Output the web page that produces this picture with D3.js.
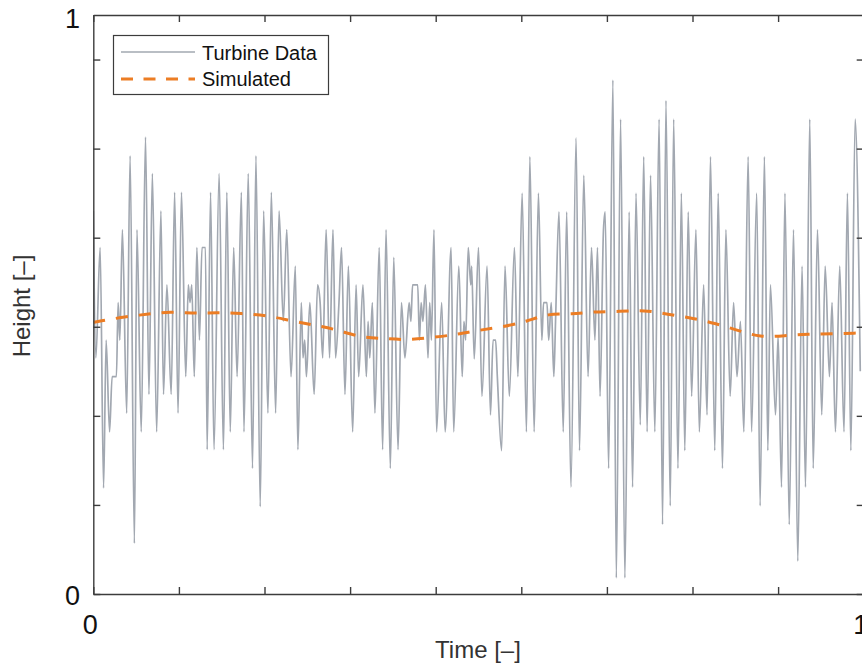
<!DOCTYPE html>
<html>
<head>
<meta charset="utf-8">
<script src="https://cdn.jsdelivr.net/npm/d3@7"></script>
<style>
  body { margin: 0; background: #fff; }
  svg { display: block; }
</style>
</head>
<body>
<svg id="chart" width="862" height="671"></svg>
<script>
// time in tick units (0..9), height in tick units (0..6.5)
var turbineTime = [0,0.03,0.08,0.12,0.15,0.19,0.22,0.27,0.29,0.31,0.34,0.39,0.43,0.48,0.51,0.56,0.61,0.65,0.69,0.74,
  0.79,0.82,0.86,0.91,0.95,0.99,1.03,1.08,1.11,1.13,1.15,1.18,1.21,1.24,1.27,1.31,1.33,1.37,1.41,1.47,
  1.52,1.56,1.60,1.64,1.68,1.73,1.76,1.81,1.86,1.90,1.95,1.99,2.04,2.08,2.13,2.17,2.22,2.26,2.31,2.36,
  2.39,2.43,2.45,2.47,2.49,2.53,2.58,2.62,2.65,2.68,2.72,2.76,2.80,2.83,2.87,2.90,2.94,2.98,3.03,3.07,
  3.10,3.15,3.19,3.21,3.23,3.26,3.29,3.34,3.38,3.42,3.47,3.51,3.56,3.60,3.64,3.69,3.71,3.73,3.79,3.81,
  3.83,3.85,3.88,3.91,3.93,3.95,3.98,4.01,4.07,4.11,4.18,4.21,4.27,4.31,4.33,4.35,4.38,4.41,4.42,4.45,
  4.50,4.54,4.60,4.64,4.67,4.70,4.72,4.77,4.81,4.86,4.92,4.96,5.01,5.06,5.10,5.15,5.20,5.24,5.26,5.30,
  5.32,5.35,5.38,5.40,5.44,5.49,5.53,5.58,5.64,5.68,5.73,5.78,5.82,5.86,5.89,5.92,5.96,5.98,6.02,6.07,
  6.11,6.16,6.21,6.26,6.30,6.34,6.39,6.43,6.47,6.51,6.56,6.61,6.65,6.69,6.74,6.78,6.83,6.87,6.91,6.95,
  6.99,7.04,7.08,7.13,7.17,7.21,7.26,7.30,7.35,7.39,7.44,7.48,7.52,7.56,7.60,7.65,7.69,7.75,7.79,7.84,
  7.88,7.91,7.97,8.00,8.04,8.08,8.13,8.18,8.23,8.28,8.32,8.37,8.41,8.46,8.51,8.55,8.60,8.63,8.67,8.72,
  8.77,8.81,8.85,8.90,8.96];
var turbineHeight = [4.30,2.65,3.89,1.19,2.85,1.82,2.44,2.44,3.27,2.85,4.09,2.03,4.92,0.57,4.09,1.82,5.13,2.24,4.72,1.82,
  4.30,2.24,3.47,2.24,4.51,2.03,4.51,2.44,3.47,3.27,3.47,2.44,3.89,2.85,3.89,3.89,1.62,4.51,1.62,4.72,
  1.62,4.51,1.82,3.89,2.44,4.51,1.82,4.72,1.41,4.92,0.98,4.30,2.03,4.51,2.03,4.30,3.06,4.09,2.44,3.68,
  1.62,3.27,2.65,2.85,2.44,3.27,2.24,3.47,3.27,2.65,4.09,2.65,4.09,2.65,3.27,3.89,2.24,3.68,1.82,3.47,
  2.44,3.47,2.44,3.06,2.65,3.27,2.03,3.89,1.62,4.09,1.41,3.78,1.62,3.27,2.65,3.27,3.06,3.47,3.47,2.85,
  3.27,3.06,3.47,2.65,3.27,2.85,4.09,1.82,3.27,1.82,3.89,1.82,3.68,2.44,3.06,2.85,3.89,3.47,3.68,2.64,
  3.89,2.22,3.68,2.01,2.85,2.85,2.44,1.61,3.68,2.22,3.89,2.44,4.50,1.82,4.91,1.82,4.50,2.85,3.27,3.27,
  2.85,3.27,2.44,3.06,4.29,1.82,4.29,1.20,5.12,1.61,4.70,2.44,3.89,2.85,3.89,2.22,4.09,4.29,1.41,5.77,
  0.18,5.33,0.18,4.29,1.20,4.50,1.90,4.91,1.82,4.70,1.82,5.33,0.78,5.54,0.99,5.33,1.41,4.50,1.61,4.29,
  2.22,4.09,1.82,3.47,2.01,4.91,1.61,4.50,1.41,4.09,2.22,3.27,2.44,3.06,1.82,4.91,1.82,4.50,0.99,4.91,
  1.61,3.47,2.01,2.90,1.20,4.50,0.78,4.09,0.37,3.68,1.20,5.33,1.41,4.09,2.01,3.68,2.44,3.27,1.82,3.68,
  1.82,4.50,1.61,5.33,2.50];

var simTime = [0,0.06,0.35,0.62,0.90,1.19,1.44,1.73,2.01,2.30,2.57,2.84,3.12,3.39,3.66,3.95,4.23,
  4.49,4.79,5.07,5.31,5.59,5.84,6.15,6.44,6.71,6.99,7.26,7.53,7.79,8.08,8.35,8.63,8.92,9];
var simHeight = [3.05,3.06,3.11,3.14,3.17,3.15,3.16,3.15,3.13,3.07,3.02,2.97,2.88,2.87,2.85,2.88,2.91,
  2.96,3.00,3.06,3.15,3.14,3.17,3.17,3.19,3.14,3.10,3.04,2.96,2.88,2.90,2.92,2.92,2.93,2.93];

var seriesNames = ["Turbine Data", "Simulated"];
var xTickLabels = ["0", "1"];
var yTickLabels = ["0", "1"];

var turbine = turbineTime.map(function(t, i) { return {t: t, h: turbineHeight[i]}; });
var sim = simTime.map(function(t, i) { return {t: t, h: simHeight[i]}; });

var svg = d3.select("#chart");

var x = d3.scaleLinear().domain([0, 9]).range([93.3, 863.7]);
var y = d3.scaleLinear().domain([0, 6.5]).range([594, 15]);

var axisColor = "#3c3c3c";

// clip
svg.append("defs").append("clipPath").attr("id", "plotclip")
  .append("rect")
    .attr("x", x(0)).attr("y", y(6.5))
    .attr("width", x(9) - x(0)).attr("height", y(0) - y(6.5));

// lines
var line = d3.line()
  .x(function(d) { return x(d.t); })
  .y(function(d) { return y(d.h); });

svg.append("path")
  .datum(turbine)
  .attr("clip-path", "url(#plotclip)")
  .attr("fill", "none")
  .attr("stroke", "#a2a8b1")
  .attr("stroke-width", 1.7)
  .attr("d", line.curve(d3.curveMonotoneX));

svg.append("path")
  .datum(sim)
  .attr("clip-path", "url(#plotclip)")
  .attr("fill", "none")
  .attr("stroke", "#ec7d24")
  .attr("stroke-width", 3)
  .attr("stroke-dasharray", "12,11")
  .attr("d", line.curve(d3.curveBasis));

// axes, ticks pointing inward on all four sides
var xt = d3.range(0, 10), yt = d3.range(0, 7);

function styleAxis(g) {
  g.select(".domain").attr("stroke", axisColor).attr("stroke-width", 1.4);
  g.selectAll(".tick line").attr("stroke", axisColor).attr("stroke-width", 1.4);
  g.selectAll(".tick text").remove();
}

svg.append("g").attr("transform", "translate(0," + y(0) + ")")
  .call(d3.axisBottom(x).tickValues(xt).tickSizeInner(-7).tickSizeOuter(0)).call(styleAxis);
svg.append("g").attr("transform", "translate(0," + y(6.5) + ")")
  .call(d3.axisTop(x).tickValues(xt).tickSizeInner(-7).tickSizeOuter(0)).call(styleAxis);
svg.append("g").attr("transform", "translate(" + x(0) + ",0)")
  .call(d3.axisLeft(y).tickValues(yt).tickSizeInner(-7).tickSizeOuter(0)).call(styleAxis);
svg.append("g").attr("transform", "translate(" + x(9) + ",0)")
  .call(d3.axisRight(y).tickValues(yt).tickSizeInner(-7).tickSizeOuter(0)).call(styleAxis);

// tick labels (the right-hand "1" runs off the edge, as in the original figure)
svg.selectAll(".xlab").data(xTickLabels).enter().append("text")
  .attr("x", function(d, i) { return x(i * 9) - 3; })
  .attr("y", 634)
  .attr("font-family", "'Liberation Sans', Arial, sans-serif")
  .attr("font-size", "27px")
  .attr("text-anchor", "middle")
  .attr("fill", "#111")
  .text(function(d) { return d; });

svg.selectAll(".ylab").data(yTickLabels).enter().append("text")
  .attr("x", 80)
  .attr("y", function(d, i) { return y(i * 6.5) + (i ? 13 : 11); })
  .attr("font-family", "'Liberation Sans', Arial, sans-serif")
  .attr("font-size", "27px")
  .attr("text-anchor", "end")
  .attr("fill", "#111")
  .text(function(d) { return d; });

// axis titles
svg.append("text")
  .attr("x", 478)
  .attr("y", 658)
  .attr("font-family", "'Liberation Sans', Arial, sans-serif")
  .attr("font-size", "24px")
  .attr("fill", "#333")
  .attr("text-anchor", "middle")
  .text("Time [\u2013]");

svg.append("text")
  .attr("transform", "translate(30,306) rotate(-90)")
  .attr("font-family", "'Liberation Sans', Arial, sans-serif")
  .attr("font-size", "24px")
  .attr("fill", "#333")
  .attr("text-anchor", "middle")
  .text("Height [\u2013]");

// legend
var legend = svg.append("g");
legend.append("rect")
  .attr("x", 113.5).attr("y", 35.5)
  .attr("width", 215).attr("height", 59)
  .attr("fill", "#fff")
  .attr("stroke", axisColor)
  .attr("stroke-width", 1.2);

legend.append("line")
  .attr("x1", 121).attr("x2", 195).attr("y1", 52).attr("y2", 52)
  .attr("stroke", "#a2a8b1").attr("stroke-width", 1.7);
legend.append("line")
  .attr("x1", 121).attr("x2", 195).attr("y1", 79).attr("y2", 79)
  .attr("stroke", "#ec7d24").attr("stroke-width", 3)
  .attr("stroke-dasharray", "12,10.5");

legend.selectAll("text").data(seriesNames).enter().append("text")
  .attr("x", 202)
  .attr("y", function(d, i) { return 60 + i * 26; })
  .attr("font-family", "'Liberation Sans', Arial, sans-serif")
  .attr("font-size", "20px")
  .attr("fill", "#111")
  .text(function(d) { return d; });
</script>
</body>
</html>
